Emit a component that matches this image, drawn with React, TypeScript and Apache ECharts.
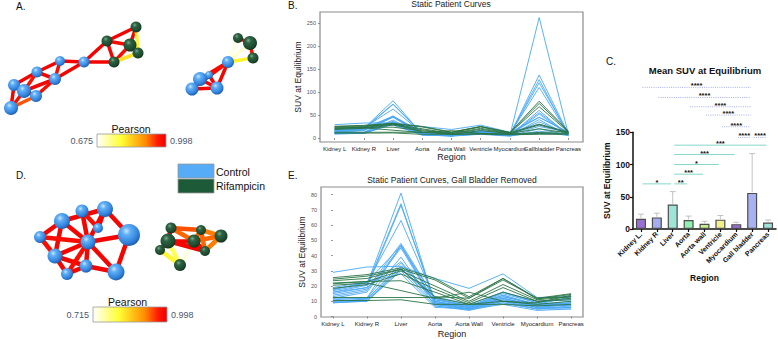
import React, { useEffect, useRef } from 'react';
import * as echarts from 'echarts';

const FONT = '"Liberation Sans", Arial, Helvetica, sans-serif';

// ---------- Panels B and E: per-patient SUV at equilibrium ----------
const curveRegions = ['Kidney L', 'Kidney R', 'Liver', 'Aorta', 'Aorta Wall', 'Ventricle', 'Myocardium', 'Gallbladder', 'Pancreas'];
const GB_INDEX = 7;
const curveRegionsNoGB = curveRegions.filter((_, i) => i !== GB_INDEX);

// Kidney L, Kidney R, Liver, Aorta, Aorta Wall, Ventricle, Myocardium, Gallbladder, Pancreas
const controlCurves: number[][] = [
  [29, 32.5, 33, 25, 18.5, 28, 12.5, 45, 13],
  [17, 21, 81, 8, 5, 10, 6, 262, 8],
  [16, 20.5, 74, 9, 6, 12, 7, 137, 9],
  [15, 19, 73, 10, 6, 13, 8, 127, 7],
  [18, 22, 63, 11, 7, 14, 8, 120, 10],
  [14, 18, 48, 12, 6, 16, 9, 110, 8],
  [13, 17, 46, 9, 5, 11, 6, 60, 6],
  [12, 16, 45, 8, 5, 10, 5, 52, 7],
  [11, 12, 39, 7, 4, 9, 5, 40, 5],
  [10, 11, 35, 10, 6, 12, 7, 35, 9],
  [10, 11.5, 33, 13, 8, 16, 10, 30, 11],
  [9, 10.5, 32, 8, 5, 9, 5, 20, 6],
  [9.5, 10, 30, 7, 4.5, 8, 4, 15, 5],
  [17.5, 22.5, 46.5, 12, 7, 15, 9, 45, 12],
  [19, 23, 28, 6, 5, 12, 6, 10, 8],
  [9, 10, 31, 11, 7, 13, 8, 25, 13],
  [12, 12, 47, 9, 6, 11, 7, 55, 9],
  [16, 19, 36, 10, 6, 14, 7, 12, 7],
];

const rifampicinCurves: number[][] = [
  [25.5, 27.5, 32, 25, 13, 25, 12, 80, 15],
  [24.5, 26.5, 31, 24, 12, 25, 11.5, 75, 14.5],
  [21.5, 23, 30, 20, 10, 21, 11, 68, 13],
  [18.5, 21, 28, 18, 9, 19, 10, 28, 12],
  [22, 23, 23.5, 16, 8, 16, 10, 20, 11],
  [20.5, 22, 17, 12, 16, 10, 9, 12, 14],
  [12.5, 12.5, 12.5, 12.5, 8, 10, 8, 10, 10],
  [10.5, 10.5, 11, 8, 8, 8, 7, 8, 8],
  [23.5, 25, 31, 13, 12, 24, 12, 30, 13],
];

const curveTicksB = [0, 50, 100, 150, 200, 250];
const curveTicksE = [0, 10, 20, 30, 40, 50, 60, 70, 80];

// ---------- Panel C: mean SUV per region ----------
const barRegions = ['Kidney L.', 'Kidney R', 'Liver', 'Aorta', 'Aorta wall', 'Ventricle', 'Myocardium', 'Gall bladder', 'Pancreas'];
const meanSUV = [16, 18, 38, 14, 8, 14.5, 7.5, 56, 10];
const sdSUV = [7, 6.5, 20, 6, 4, 6.5, 3, 61, 4];
const barColors = ['#9b6ed6', '#a6acf0', '#9ee5d8', '#8ff0b2', '#c5f08c', '#f3ef8a', '#9b6ed6', '#a8b2f2', '#a0e2d9'];

// pairwise comparisons: [from, to, bracket height, stars, family]
const comparisons: [number, number, number, string, 'liver' | 'gb'][] = [
  [0, 2, 70, '*', 'liver'],
  [2, 3, 70, '**', 'liver'],
  [2, 4, 85, '***', 'liver'],
  [2, 5, 100, '*', 'liver'],
  [2, 6, 115.5, '***', 'liver'],
  [2, 8, 130, '***', 'liver'],
  [6, 7, 142, '****', 'gb'],
  [7, 8, 142, '****', 'gb'],
  [5, 7, 158.6, '****', 'gb'],
  [4, 7, 176.7, '****', 'gb'],
  [3, 7, 189.6, '****', 'gb'],
  [1, 7, 204, '****', 'gb'],
  [0, 7, 219.7, '****', 'gb'],
];

// ---------- Panels A and D: correlation networks ----------
// node: [x, y, diameter, group]
type Node = [number, number, number, 'c' | 'r'];
const netANodes: Node[] = [
  [14, 85, 12, 'c'], [24, 91, 14, 'c'], [36, 96, 12, 'c'], [11, 108, 14, 'c'],
  [37, 72, 11, 'c'], [55, 79, 12, 'c'], [60, 61, 10, 'c'], [84, 62, 11, 'c'],
  [107, 41, 11, 'r'], [136, 27, 11, 'r'], [130, 45, 13, 'r'], [138, 53, 11, 'r'], [114, 62, 11, 'r'],
  [209, 75, 8, 'c'], [200, 79, 14, 'c'], [192, 89, 13, 'c'], [217, 88, 13, 'c'], [228, 62, 12, 'c'],
  [238, 38, 10, 'r'], [253, 58, 11, 'r'], [250, 43, 14, 'r'],
];
const netALinks: [number, number, number][] = [
  [0, 4, 0.99], [4, 6, 0.99], [6, 7, 0.99], [4, 5, 0.99], [5, 6, 0.98], [5, 7, 0.99],
  [0, 1, 0.99], [0, 3, 0.99], [1, 2, 0.99], [1, 3, 0.98], [2, 3, 0.93], [1, 5, 0.99],
  [2, 5, 0.98], [0, 2, 0.99], [4, 1, 0.97], [7, 12, 0.99], [7, 8, 0.99], [8, 9, 0.99],
  [8, 12, 0.99], [8, 10, 0.98], [9, 10, 0.99], [10, 11, 0.99], [12, 10, 0.98],
  [12, 11, 0.82], [9, 11, 0.8],
  [13, 14, 0.99], [13, 15, 0.99], [13, 16, 0.99], [14, 15, 0.99], [14, 16, 0.99],
  [15, 16, 0.99], [14, 17, 0.99], [16, 17, 0.99], [15, 17, 0.98], [13, 17, 0.98],
  [17, 18, 0.69], [17, 20, 0.7], [17, 19, 0.8], [18, 20, 0.99], [20, 19, 0.97],
];
const netARange = [0.675, 0.998];

const netDNodes: Node[] = [
  [40, 237, 12, 'c'], [62, 221, 16, 'c'], [82, 211, 13, 'c'], [105, 209, 16, 'c'],
  [98, 228, 10, 'c'], [129, 235, 22, 'c'], [88, 242, 15, 'c'], [55, 256, 15, 'c'],
  [86, 266, 13, 'c'], [67, 274, 12, 'c'], [116, 272, 17, 'c'],
  [171, 228, 11, 'r'], [168, 241, 15, 'r'], [160, 250, 10, 'r'], [180, 265, 12, 'r'],
  [194, 241, 13, 'r'], [201, 230, 10, 'r'], [221, 236, 13, 'r'], [205, 251, 10, 'r'],
];
const netDLinks: [number, number, number][] = [
  [1, 3, 0.99], [1, 0, 0.99], [1, 6, 0.99], [1, 7, 0.99], [0, 7, 0.98], [2, 6, 0.99],
  [2, 4, 0.98], [3, 4, 0.99], [3, 5, 0.99], [3, 6, 0.99], [6, 5, 0.99], [6, 7, 0.99],
  [6, 8, 0.99], [6, 10, 0.99], [5, 10, 0.99], [7, 9, 0.99], [7, 8, 0.99], [8, 9, 0.99],
  [8, 10, 0.99], [0, 6, 0.98], [9, 6, 0.98],
  [11, 12, 0.99], [11, 15, 0.93], [12, 15, 0.99], [12, 13, 0.99], [13, 14, 0.82],
  [12, 14, 0.8], [15, 14, 0.73], [15, 16, 0.93], [16, 17, 0.92], [15, 17, 0.93],
  [15, 18, 0.98], [18, 17, 0.92], [16, 18, 0.93], [12, 18, 0.99], [11, 16, 0.94],
];
const netDRange = [0.715, 0.998];

// ---------- colours ----------
const CONTROL = '#4aa8f5';
const RIFAMPICIN = '#2a7446';
const pearsonStops: [number, string][] = [
  [0, '#ffffff'], [0.35, '#ffff33'], [0.7, '#ff8c00'], [0.88, '#ff1a00'], [1, '#ee0000'],
];

function pearsonColor(p: number, range: number[]): string {
  const t = Math.max(0, Math.min(1, (p - range[0]) / (range[1] - range[0])));
  for (let i = 1; i < pearsonStops.length; i++) {
    const [o1, c1] = pearsonStops[i - 1];
    const [o2, c2] = pearsonStops[i];
    if (t <= o2) return echarts.color.lerp((t - o1) / (o2 - o1), [c1, c2]) as string;
  }
  return pearsonStops[pearsonStops.length - 1][1];
}

function sphere(group: 'c' | 'r') {
  const stops = group === 'c'
    ? [
        { offset: 0, color: '#cbe7ff' },
        { offset: 0.25, color: '#62b0f7' },
        { offset: 0.75, color: '#2f80da' },
        { offset: 1, color: '#1c58a6' },
      ]
    : [
        { offset: 0, color: '#7aa88a' },
        { offset: 0.28, color: '#2e6243' },
        { offset: 0.8, color: '#1b472c' },
        { offset: 1, color: '#0e2918' },
      ];
  return new echarts.graphic.RadialGradient(0.38, 0.32, 0.72, stops);
}

function networkSeries(nodes: Node[], links: [number, number, number][], range: number[], width: number) {
  return {
    type: 'graph',
    layout: 'none',
    coordinateSystem: 'cartesian2d',
    xAxisIndex: 0,
    yAxisIndex: 0,
    silent: true,
    z: 3,
    data: nodes.map((n) => ({
      value: [n[0], n[1]],
      symbolSize: n[2],
      itemStyle: { color: sphere(n[3]) },
    })),
    links: links.map((l) => ({
      source: l[0],
      target: l[1],
      lineStyle: { color: pearsonColor(l[2], range), width, opacity: 1 },
    })),
    label: { show: false },
    emphasis: { disabled: true },
  };
}

function pearsonBar(x: number, y: number, w: number, h: number, range: number[], cx: number, cy: number) {
  return [
    {
      type: 'rect',
      shape: { x, y, width: w, height: h },
      style: {
        fill: new echarts.graphic.LinearGradient(0, 0, 1, 0,
          pearsonStops.map(([offset, color]) => ({ offset, color }))),
        stroke: '#9a9a9a',
        lineWidth: 0.8,
      },
    },
    {
      type: 'text', x: cx, y: cy,
      style: { text: 'Pearson', fontSize: 10.5, fontFamily: FONT, fill: '#111', align: 'center', verticalAlign: 'middle' },
    },
    {
      type: 'text', x: x - 4, y: y + h / 2,
      style: { text: range[0].toFixed(3), fontSize: 9, fontFamily: FONT, fill: '#4a5873', align: 'right', verticalAlign: 'middle' },
    },
    {
      type: 'text', x: x + w + 4, y: y + h / 2,
      style: { text: range[1].toFixed(3), fontSize: 9, fontFamily: FONT, fill: '#4a5873', align: 'left', verticalAlign: 'middle' },
    },
  ];
}

function panelLetter(text: string, x: number, y: number) {
  return {
    type: 'text', x, y,
    style: { text, fontSize: 10, fontFamily: FONT, fill: '#111', align: 'left', verticalAlign: 'top' },
  };
}

function buildOption() {
  const smallAxisLabel = { fontSize: 5.5, color: '#555', fontFamily: FONT, margin: 4 };
  const catLabel = { fontSize: 6, color: '#222', fontFamily: FONT, margin: 4, interval: 0 };
  const axisNameStyle = { fontSize: 9, color: '#222', fontFamily: FONT };
  const tick = { show: true, length: 2, lineStyle: { color: '#777', width: 0.8 } };

  const series: any[] = [
    networkSeries(netANodes, netALinks, netARange, 3.5),
    networkSeries(netDNodes, netDLinks, netDRange, 4.5),
  ];

  const curveSets: [number[][], string][] = [[controlCurves, CONTROL], [rifampicinCurves, RIFAMPICIN]];
  curveSets.forEach(([rows, color]) => {
    rows.forEach((row) => {
      series.push({
        type: 'line', xAxisIndex: 1, yAxisIndex: 1, data: row,
        symbol: 'none', silent: true,
        lineStyle: { color, width: 1, opacity: 0.9 },
      });
    });
  });
  curveSets.forEach(([rows, color]) => {
    rows.forEach((row) => {
      series.push({
        type: 'line', xAxisIndex: 2, yAxisIndex: 2,
        data: row.filter((_, i) => i !== GB_INDEX).map((v, i) => [i, v]),
        symbol: 'none', silent: true,
        lineStyle: { color, width: 1, opacity: 0.9 },
      });
    });
  });

  series.push({
    type: 'bar', xAxisIndex: 3, yAxisIndex: 3, barWidth: 10, silent: true,
    data: meanSUV.map((v, i) => ({
      value: v,
      itemStyle: { color: barColors[i], borderColor: '#4d4d4d', borderWidth: 1.2 },
    })),
    z: 2,
  });

  series.push({
    type: 'custom', xAxisIndex: 3, yAxisIndex: 3, silent: true, z: 3,
    data: meanSUV.map((m, i) => [i, m, m + sdSUV[i]]),
    encode: { x: 0, y: [1, 2] },
    renderItem: (_params: any, api: any) => {
      const lo = api.coord([api.value(0), api.value(1)]);
      const hi = api.coord([api.value(0), api.value(2)]);
      const style = { stroke: '#c2c2c2', lineWidth: 1 };
      return {
        type: 'group',
        children: [
          { type: 'line', shape: { x1: lo[0], y1: lo[1] - 0.6, x2: hi[0], y2: hi[1] }, style },
          { type: 'line', shape: { x1: hi[0] - 3, y1: hi[1], x2: hi[0] + 3, y2: hi[1] }, style },
        ],
      };
    },
  });

  series.push({
    type: 'custom', xAxisIndex: 4, yAxisIndex: 4, silent: true, z: 4,
    data: comparisons.map((c) => [c[0], c[1], c[2]]),
    encode: { x: [0, 1], y: 2 },
    renderItem: (params: any, api: any) => {
      const c = comparisons[params.dataIndex];
      const a = api.coord([api.value(0), api.value(2)]);
      const b = api.coord([api.value(1), api.value(2)]);
      const dotted = c[4] === 'gb';
      return {
        type: 'group',
        children: [
          {
            type: 'line',
            shape: { x1: a[0] + 1.5, y1: a[1], x2: b[0] - 1.5, y2: b[1] },
            style: dotted
              ? { stroke: '#9ba4ee', lineWidth: 0.9, lineDash: [1, 1.2] }
              : { stroke: '#86d8cb', lineWidth: 1 },
          },
          {
            type: 'text', x: (a[0] + b[0]) / 2, y: a[1] - 1.5,
            style: {
              text: c[3], fontSize: 7.5, fontWeight: 'bold', fontFamily: FONT, fill: '#111',
              align: 'center', verticalAlign: 'middle',
            },
          },
        ],
      };
    },
  });

  return {
    animation: false,
    backgroundColor: '#ffffff',
    textStyle: { fontFamily: FONT },
    title: [
      { text: 'Static Patient Curves', left: 451, top: -1, textAlign: 'center', padding: 0,
        textStyle: { fontSize: 8.5, fontWeight: 'normal', color: '#222', fontFamily: FONT } },
      { text: 'Static Patient Curves, Gall Bladder Removed', left: 452, top: 175, textAlign: 'center', padding: 0,
        textStyle: { fontSize: 8.5, fontWeight: 'normal', color: '#222', fontFamily: FONT } },
      { text: 'Mean SUV at Equilibrium', left: 705, top: 65, textAlign: 'center', padding: 0,
        textStyle: { fontSize: 9.5, fontWeight: 'bold', color: '#111', fontFamily: FONT } },
    ],
    grid: [
      { left: 0, top: 0, width: 260, height: 339, show: false },
      { left: 320, top: 12, width: 263, height: 130, show: true, borderColor: '#8c8c8c', borderWidth: 1.2, backgroundColor: 'transparent' },
      { left: 321, top: 187, width: 262, height: 130, show: true, borderColor: '#8c8c8c', borderWidth: 1.2, backgroundColor: 'transparent' },
      { left: 633, top: 132.3, width: 143, height: 96.7, show: false },
      { left: 633, top: 80, width: 143, height: 149, show: false },
    ],
    xAxis: [
      { type: 'value', gridIndex: 0, min: 0, max: 260, show: false },
      {
        type: 'category', gridIndex: 1, data: curveRegions, boundaryGap: true,
        axisLine: { show: false }, axisTick: { ...tick, alignWithLabel: true },
        axisLabel: catLabel, splitLine: { show: false },
        name: 'Region', nameLocation: 'middle', nameGap: 10, nameTextStyle: axisNameStyle,
      },
      {
        type: 'value', gridIndex: 2, min: -0.35, max: 7.35,
        axisLine: { show: false },
        axisTick: { ...tick, customValues: curveRegionsNoGB.map((_, i) => i) },
        axisLabel: { ...catLabel, customValues: curveRegionsNoGB.map((_, i) => i),
          formatter: (v: number) => curveRegionsNoGB[Math.round(v)] ?? '' },
        splitLine: { show: false },
        name: 'Region', nameLocation: 'middle', nameGap: 12, nameTextStyle: axisNameStyle,
      },
      {
        type: 'category', gridIndex: 3, data: barRegions, boundaryGap: true,
        axisLine: { show: true, lineStyle: { color: '#111', width: 1.5 } },
        axisTick: { show: true, length: 3, alignWithLabel: true, lineStyle: { color: '#111', width: 1.2 } },
        axisLabel: { rotate: 45, fontSize: 7, fontWeight: 'bold', color: '#111', interval: 0, margin: 4, fontFamily: FONT },
        name: 'Region', nameLocation: 'middle', nameGap: 44,
        nameTextStyle: { fontSize: 8.5, fontWeight: 'bold', color: '#111', fontFamily: FONT },
      },
      { type: 'category', gridIndex: 4, data: barRegions, boundaryGap: true, show: false },
    ],
    yAxis: [
      { type: 'value', gridIndex: 0, min: 0, max: 339, inverse: true, show: false },
      {
        type: 'value', gridIndex: 1, min: -8.7, max: 274,
        axisLine: { show: false },
        axisTick: { ...tick, customValues: curveTicksB },
        axisLabel: { ...smallAxisLabel, customValues: curveTicksB },
        splitLine: { show: false },
        name: 'SUV at Equilibrium', nameLocation: 'middle', nameGap: 17, nameRotate: 90,
        nameTextStyle: { ...axisNameStyle, fontSize: 8.5 },
      },
      {
        type: 'value', gridIndex: 2, min: -0.3, max: 85,
        axisLine: { show: false },
        axisTick: { ...tick, customValues: curveTicksE },
        axisLabel: { ...smallAxisLabel, customValues: curveTicksE },
        splitLine: { show: false },
        name: 'SUV at Equilibrium', nameLocation: 'middle', nameGap: 14, nameRotate: 90,
        nameTextStyle: { ...axisNameStyle, fontSize: 8.5 },
      },
      {
        type: 'value', gridIndex: 3, min: 0, max: 150, interval: 50,
        axisLine: { show: true, lineStyle: { color: '#111', width: 1.5 } },
        axisTick: { show: true, length: 3, lineStyle: { color: '#111', width: 1.2 } },
        axisLabel: { fontSize: 8.5, fontWeight: 'bold', color: '#111', margin: 3, fontFamily: FONT },
        splitLine: { show: false },
        name: 'SUV at Equilibrium', nameLocation: 'middle', nameGap: 15, nameRotate: 90,
        nameTextStyle: { fontSize: 8.5, fontWeight: 'bold', color: '#111', fontFamily: FONT },
      },
      { type: 'value', gridIndex: 4, min: 0, max: 231.1, show: false },
    ],
    graphic: [
      panelLetter('A.', 16, 1),
      panelLetter('B.', 288, 0),
      panelLetter('C.', 606, 56),
      panelLetter('D.', 16, 170),
      panelLetter('E.', 288, 170),
      ...pearsonBar(97, 134, 69, 13, netARange, 131, 128.5),
      ...pearsonBar(93, 307, 74, 15, netDRange, 127.5, 302),
      { type: 'rect', shape: { x: 178, y: 164, width: 36, height: 14 }, style: { fill: '#56acf6', stroke: '#9a9a9a', lineWidth: 0.8 } },
      { type: 'rect', shape: { x: 178, y: 179, width: 36, height: 14 }, style: { fill: '#1d5a37', stroke: '#9a9a9a', lineWidth: 0.8 } },
      { type: 'text', x: 216, y: 171.5, style: { text: 'Control', fontSize: 10.5, fontFamily: FONT, fill: '#111', align: 'left', verticalAlign: 'middle' } },
      { type: 'text', x: 216, y: 186, style: { text: 'Rifampicin', fontSize: 10.5, fontFamily: FONT, fill: '#111', align: 'left', verticalAlign: 'middle' } },
    ],
    series,
  };
}

export default function App() {
  const ref = useRef<HTMLDivElement>(null);
  useEffect(() => {
    if (!ref.current) return;
    const chart = echarts.init(ref.current, null, { renderer: 'svg' });
    chart.setOption(buildOption() as any);
    return () => chart.dispose();
  }, []);
  return (
    <div
      ref={ref}
      style={{ position: 'absolute', left: 0, top: 0, width: 778, height: 339, background: '#fff' }}
    />
  );
}
